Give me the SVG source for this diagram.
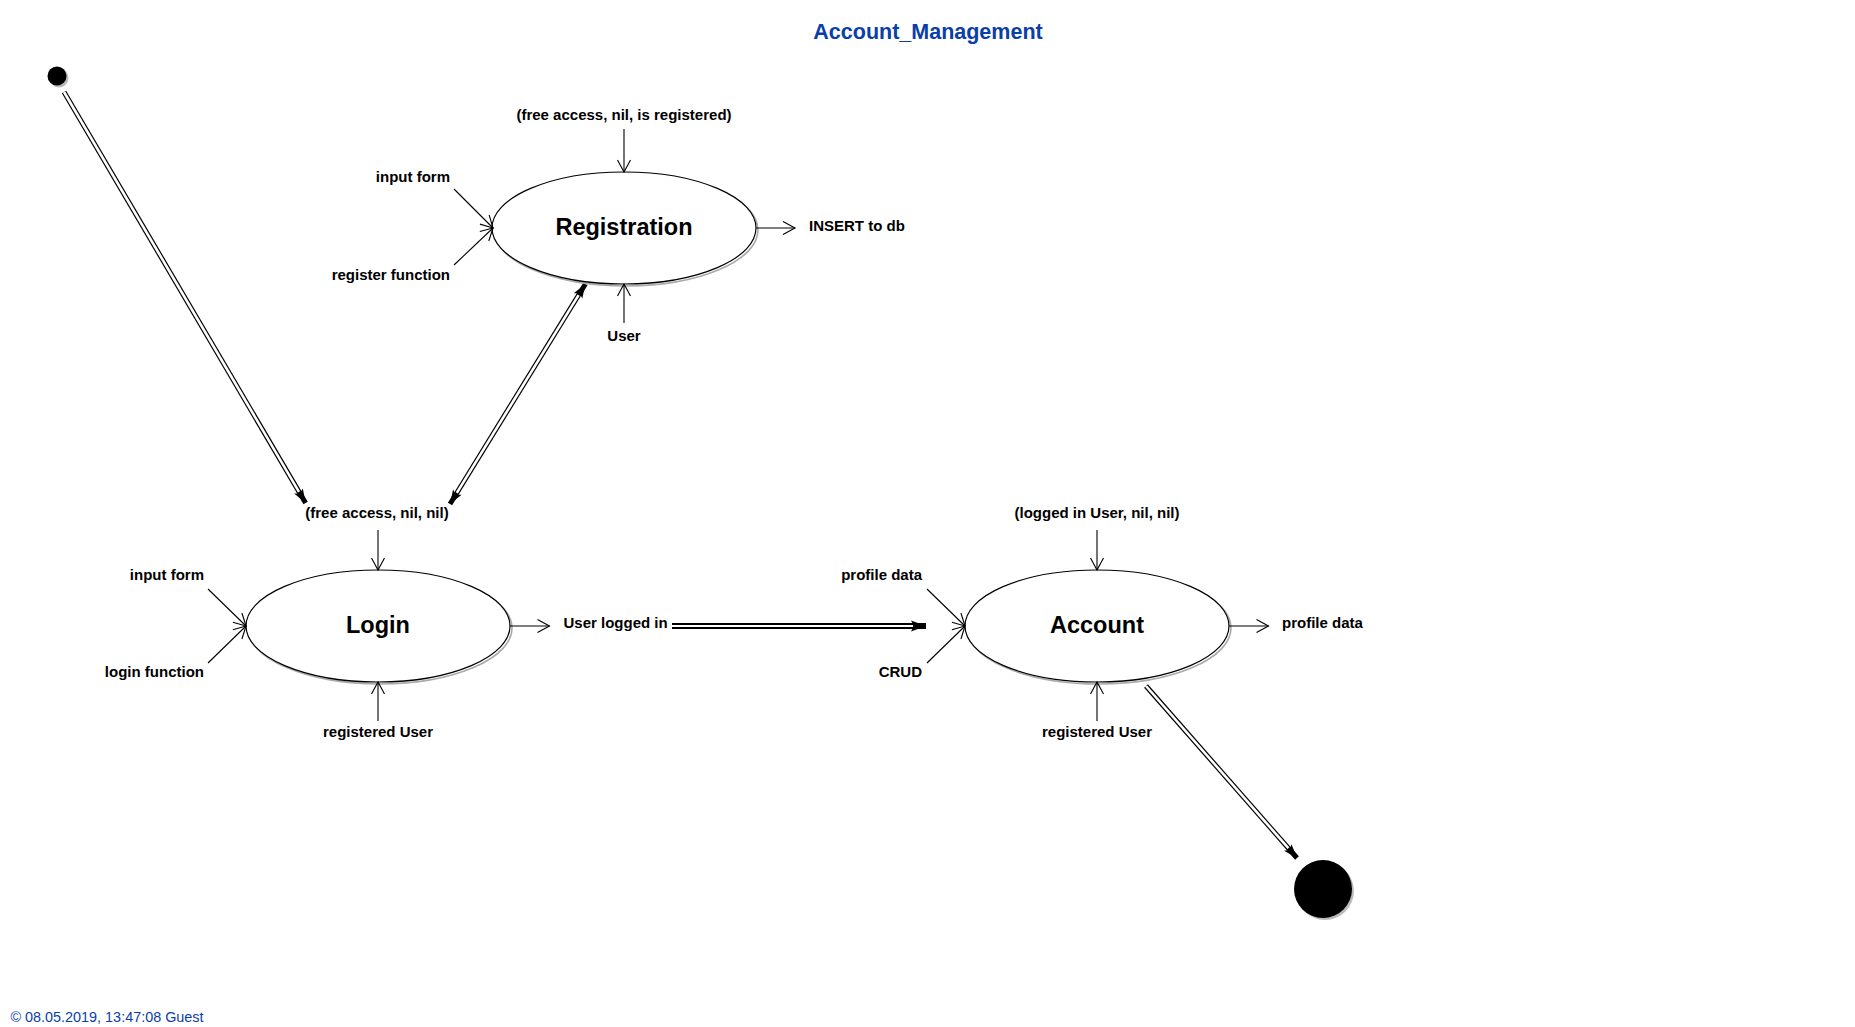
<svg xmlns="http://www.w3.org/2000/svg" width="1855" height="1027" viewBox="0 0 1855 1027">
<style>
.lbl{font-family:"Liberation Sans",Arial,sans-serif;font-weight:bold;font-size:15px;fill:#000;dominant-baseline:central}
.name{font-family:"Liberation Sans",Arial,sans-serif;font-weight:bold;font-size:23.5px;fill:#000;dominant-baseline:central;text-anchor:middle}
.title{font-family:"Liberation Sans",Arial,sans-serif;font-weight:bold;font-size:21.5px;fill:#0a3ea8;dominant-baseline:central;text-anchor:middle}
.foot{font-family:"Liberation Sans",Arial,sans-serif;font-size:14.4px;fill:#0a3ea8;dominant-baseline:central}
.mid{text-anchor:middle}.end{text-anchor:end}
.state{fill:#fff;stroke:#000;stroke-width:1.2}
.shadow{fill:none;stroke:#aaa;stroke-width:1.6}
.port{stroke:#000;stroke-width:1.1;fill:none;marker-end:url(#open)}
.dbl{stroke:#000;fill:none;stroke-linecap:butt}
.gap{stroke:#fff;fill:none;stroke-linecap:butt}
</style>
<defs>
<marker id="open" markerUnits="userSpaceOnUse" markerWidth="16" markerHeight="16" refX="12" refY="7" orient="auto" overflow="visible"><path d="M0,0.5 L12,7 L0,13.5" fill="none" stroke="#000" stroke-width="1.1"/></marker>
<marker id="solid" markerUnits="userSpaceOnUse" markerWidth="18" markerHeight="12" refX="14" refY="5" orient="auto-start-reverse" overflow="visible"><path d="M0,0 L14,5 L0,10 L3,5 z" fill="#000"/></marker>
<marker id="big" markerUnits="userSpaceOnUse" markerWidth="20" markerHeight="14" refX="15" refY="5.5" orient="auto" overflow="visible"><path d="M0,0 L15,5.5 L0,11 L3,5.5 z" fill="#000"/></marker>
</defs>
<rect x="0" y="0" width="1855" height="1027" fill="#fff"/>
<text class="title" x="928" y="32">Account_Management</text>

<g id="connectors">
<g id="t-start-login">
<line class="dbl" x1="64" y1="92" x2="305.6" y2="503" stroke-width="5" marker-end="url(#solid)"/>
<line class="gap" x1="64" y1="92" x2="299" y2="491.8" stroke-width="2.6"/>
</g>
<g id="t-login-registration">
<line class="dbl" x1="450" y1="504" x2="585.4" y2="284" stroke-width="5" marker-start="url(#solid)" marker-end="url(#solid)"/>
<line class="gap" x1="456.8" y1="492.9" x2="578.6" y2="295.1" stroke-width="2.6"/>
</g>
<g id="t-login-account">
<line class="dbl" x1="672" y1="626" x2="926" y2="626" stroke-width="6" marker-end="url(#big)"/>
<line class="gap" x1="672" y1="626" x2="913" y2="626" stroke-width="2"/>
</g>
<g id="t-account-final">
<line class="dbl" x1="1146" y1="686" x2="1297" y2="858" stroke-width="5" marker-end="url(#solid)"/>
<line class="gap" x1="1146" y1="686" x2="1288.4" y2="848.2" stroke-width="2.6"/>
</g>
</g>

<g id="start">
<circle cx="59" cy="78" r="9.5" fill="#bbb"/>
<circle cx="57" cy="76" r="9.5" fill="#000"/>
</g>

<g id="registration">
<ellipse class="shadow" cx="626" cy="230" rx="132" ry="56"/>
<ellipse class="state" cx="624" cy="228" rx="132" ry="56"/>
<text class="name" x="624" y="227">Registration</text>
<text class="lbl mid" x="624" y="114.5">(free access, nil, is registered)</text>
<line class="port" x1="624" y1="129" x2="624" y2="172"/>
<text class="lbl end" x="450" y="176">input form</text>
<line class="port" x1="454" y1="189" x2="493" y2="228"/>
<text class="lbl end" x="450" y="274.5">register function</text>
<line class="port" x1="454" y1="265" x2="493" y2="228"/>
<line class="port" x1="756" y1="228" x2="795" y2="228"/>
<text class="lbl" x="809" y="225">INSERT to db</text>
<line class="port" x1="624" y1="323" x2="624" y2="284"/>
<text class="lbl mid" x="624" y="335.5">User</text>
</g>

<g id="login">
<ellipse class="shadow" cx="380" cy="628" rx="132" ry="56"/>
<ellipse class="state" cx="378" cy="626" rx="132" ry="56"/>
<text class="name" x="378" y="625">Login</text>
<text class="lbl mid" x="377" y="512">(free access, nil, nil)</text>
<line class="port" x1="378" y1="530" x2="378" y2="570"/>
<text class="lbl end" x="204" y="574">input form</text>
<line class="port" x1="208" y1="589" x2="246" y2="626"/>
<text class="lbl end" x="204" y="671">login function</text>
<line class="port" x1="208" y1="663" x2="246" y2="626"/>
<line class="port" x1="510" y1="626" x2="549.5" y2="626"/>
<text class="lbl" x="563.5" y="622.5">User logged in</text>
<line class="port" x1="378" y1="721" x2="378" y2="682"/>
<text class="lbl mid" x="378" y="731.5">registered User</text>
</g>

<g id="account">
<ellipse class="shadow" cx="1099" cy="628" rx="132" ry="56"/>
<ellipse class="state" cx="1097" cy="626" rx="132" ry="56"/>
<text class="name" x="1097" y="625">Account</text>
<text class="lbl mid" x="1097" y="512">(logged in User, nil, nil)</text>
<line class="port" x1="1097" y1="530" x2="1097" y2="570"/>
<text class="lbl end" x="922" y="574">profile data</text>
<line class="port" x1="927" y1="589" x2="965" y2="626"/>
<text class="lbl end" x="922" y="671">CRUD</text>
<line class="port" x1="927" y1="663" x2="965" y2="626"/>
<line class="port" x1="1229" y1="626" x2="1268.5" y2="626"/>
<text class="lbl" x="1282" y="622.5">profile data</text>
<line class="port" x1="1097" y1="721" x2="1097" y2="682"/>
<text class="lbl mid" x="1097" y="731.5">registered User</text>
</g>

<g id="final">
<circle cx="1325" cy="891" r="29" fill="#bbb"/>
<circle cx="1323" cy="889" r="29" fill="#000"/>
</g>

<text class="foot" x="10.5" y="1016.5">© 08.05.2019, 13:47:08 Guest</text>
</svg>
